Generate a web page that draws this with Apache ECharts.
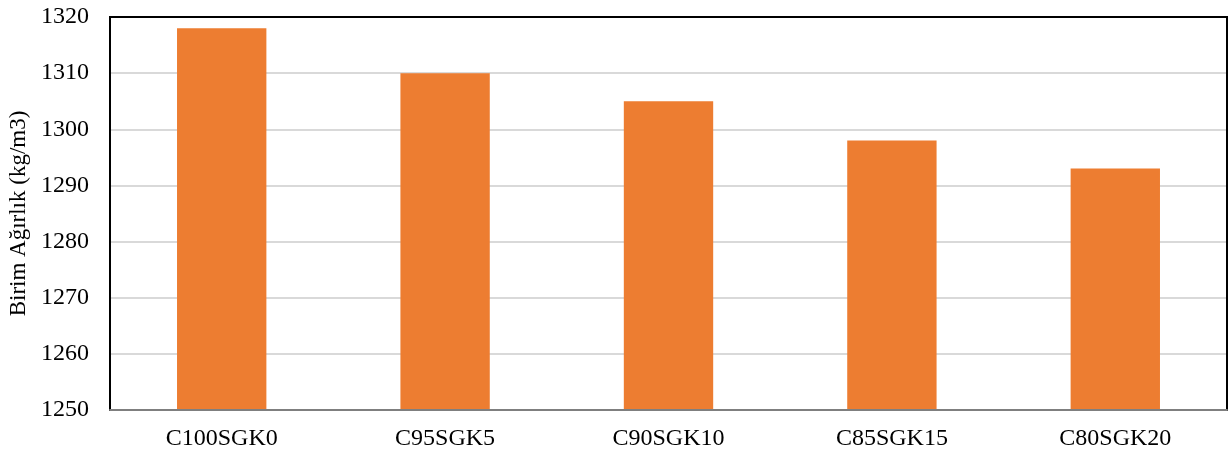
<!DOCTYPE html>
<html>
<head>
<meta charset="utf-8">
<script src="https://cdn.jsdelivr.net/npm/echarts@6/dist/echarts.min.js"></script>
<style>
  html, body { margin: 0; padding: 0; background: #fff; }
  #chart { width: 1232px; height: 456px; }
</style>
</head>
<body>
<div id="chart"></div>
<script>
// Unit weight per mix
const categories = ['C100SGK0', 'C95SGK5', 'C90SGK10', 'C85SGK15', 'C80SGK20'];
const unitWeight = [1318, 1310, 1305, 1298, 1293];
const yTitle = 'Birim Ağırlık (kg/m3)';

const font = '"Liberation Serif", "Times New Roman", serif';
const chart = echarts.init(document.getElementById('chart'), null, { renderer: 'canvas' });

chart.setOption({
  animation: false,
  backgroundColor: '#fff',
  grid: {
    left: 110, right: 5, top: 17, bottom: 46,
    outerBoundsMode: 'none',
    containLabel: false,
    show: true, borderColor: '#000', borderWidth: 2, backgroundColor: 'transparent',
    z: 5
  },
  xAxis: {
    type: 'category',
    data: categories,
    z: 6,
    axisLine: { show: true, lineStyle: { color: '#7f7f7f', width: 2 } },
    axisTick: { show: false },
    axisLabel: { color: '#000', fontFamily: font, fontSize: 24, margin: 17 }
  },
  yAxis: {
    type: 'value',
    min: 1250, max: 1320, interval: 10,
    name: yTitle,
    nameLocation: 'middle',
    nameGap: 80,
    nameTextStyle: { color: '#000', fontFamily: font, fontSize: 23 },
    axisLine: { show: false },
    axisTick: { show: false },
    axisLabel: { color: '#000', fontFamily: font, fontSize: 24, margin: 21, formatter: v => String(v) },
    splitLine: { show: true, showMaxLine: false, showMinLine: false, lineStyle: { color: '#d9d9d9', width: 2 } }
  },
  series: [{
    type: 'bar',
    data: unitWeight,
    barWidth: '40%',
    itemStyle: { color: '#ed7d31' }
  }]
});
</script>
</body>
</html>
